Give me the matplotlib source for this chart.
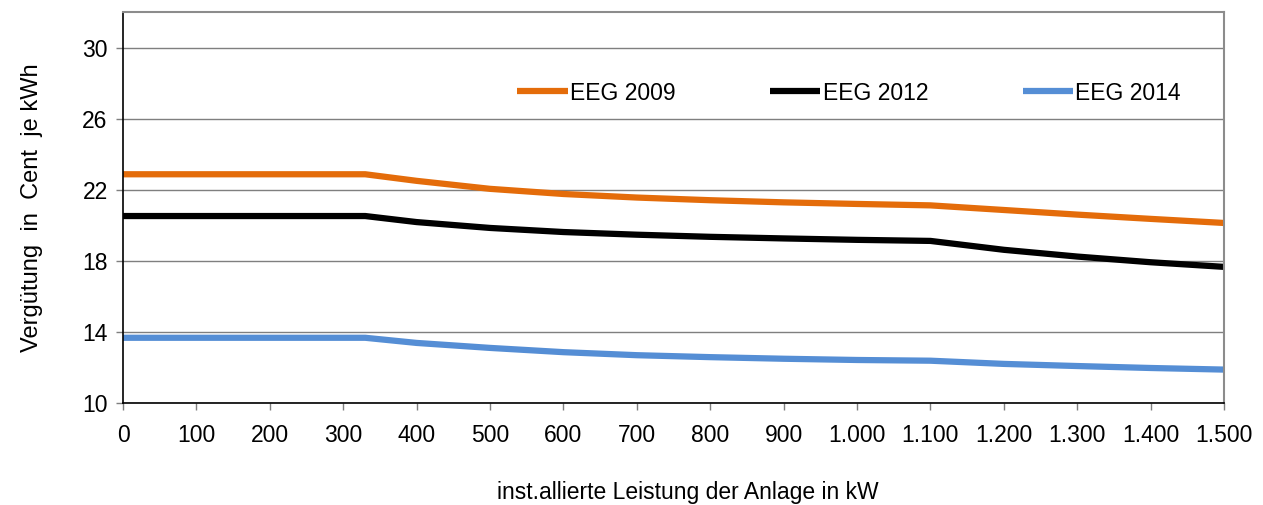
import matplotlib
matplotlib.use("Agg")
import matplotlib.pyplot as plt
from matplotlib.ticker import FuncFormatter

plt.rcParams['font.family'] = ['Liberation Sans', 'DejaVu Sans']

leistung_kw = [0, 100, 200, 300, 330, 400, 500, 600, 700, 800, 900, 1000, 1100, 1200, 1300, 1400, 1500]
eeg_2009 = [22.87, 22.87, 22.87, 22.87, 22.87, 22.50, 22.05, 21.76, 21.56, 21.41, 21.29, 21.20, 21.12, 20.86, 20.60, 20.36, 20.13]
eeg_2012 = [20.52, 20.52, 20.52, 20.52, 20.52, 20.18, 19.85, 19.62, 19.47, 19.35, 19.26, 19.18, 19.12, 18.62, 18.24, 17.92, 17.66]
eeg_2014 = [13.67, 13.67, 13.67, 13.67, 13.67, 13.38, 13.10, 12.86, 12.69, 12.58, 12.49, 12.42, 12.38, 12.20, 12.08, 11.97, 11.88]
series_labels = ["EEG 2009", "EEG 2012", "EEG 2014"]
y_ticks = [10, 14, 18, 22, 26, 30]
x_ticks = list(range(0, 1501, 100))

colors = ["#E46C0A", "#000000", "#558ED5"]
FS = 16.5

fig = plt.figure(figsize=(12.63, 5.05), dpi=100)
ax = fig.add_axes([123/1263, 102/505, (1224-123)/1263, (403-12)/505])

for ys, lab, c in zip([eeg_2009, eeg_2012, eeg_2014], series_labels, colors):
    ax.plot(leistung_kw, ys, color=c, lw=4.5, label=lab, solid_capstyle='butt')

ax.set_xlim(0, 1500)
ax.set_ylim(10, 32)
ax.set_yticks(y_ticks)
ax.set_xticks(x_ticks)
ax.xaxis.set_major_formatter(FuncFormatter(lambda v, p: f"{int(v):,}".replace(",", ".")))
ax.yaxis.grid(True, color="#7f7f7f", lw=1)
ax.set_axisbelow(True)
ax.tick_params(axis='both', labelsize=FS, direction='out', length=5, color="#7f7f7f", width=1)
ax.tick_params(axis='x', pad=10)
ax.tick_params(axis='y', pad=6)
for s in ['left', 'bottom']:
    ax.spines[s].set_color('black')
    ax.spines[s].set_linewidth(1.2)
for s in ['top', 'right']:
    ax.spines[s].set_color('#8c8c8c')
    ax.spines[s].set_linewidth(1.5)

ax.set_ylabel("Vergütung  in  Cent  je kWh", fontsize=FS + 0.5, labelpad=28)
fig.text(688/1263, 1 - 492/505, "inst.allierte Leistung der Anlage in kW", fontsize=FS,
         ha='center', va='center')

leg = ax.legend(loc='center', bbox_to_anchor=((849-123)/1101, (403-93)/391), ncol=3, frameon=False,
                fontsize=FS, handlelength=2.2, handletextpad=0.1, columnspacing=4.12)

fig.savefig("out.png", dpi=100)
